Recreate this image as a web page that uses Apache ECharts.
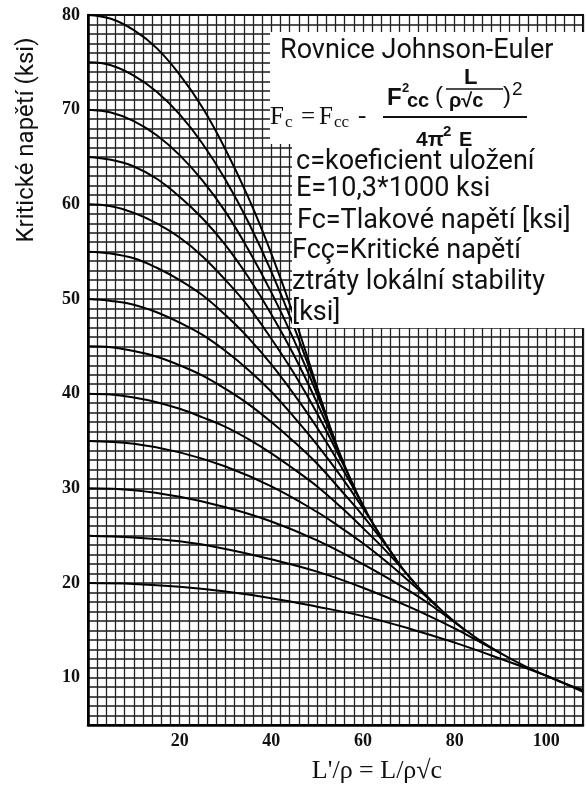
<!DOCTYPE html>
<html lang="cs">
<head>
    <meta charset="UTF-8">
    <title>Johnson-Euler</title>
    <script src="https://cdn.jsdelivr.net/npm/echarts@6.0.0/dist/echarts.min.js"></script>
    <style>
        html, body { margin: 0; padding: 0; background: #fff; }
    </style>
</head>
<body>
    <div id="main" style="width: 586px; height: 785px;"></div>

    <script type="text/javascript">
        // curves, [L'/rho, Fc] for each Fcc
        const fcc80 = [[0,80],[5,79.6],[10,78.4],[15,76.5],[20,73.7],[25,70.2],[30,65.8],[35,60.7],[40,54.8],[45,48.1],[50.4,40]];
        const fcc75 = [[0,75],[5,74.7],[10,73.6],[15,71.9],[20,69.5],[25,66.4],[30,62.6],[35,58.1],[40,52.9],[45,47.0],[50,40.4],[52.1,37.5]];
        const fcc70 = [[0,70],[5,69.7],[10,68.8],[15,67.3],[20,65.2],[25,62.5],[30,59.2],[35,55.2],[40,50.7],[45,45.6],[50,39.9],[53.9,35]];
        const fcc65 = [[0,65],[5,64.7],[10,64.0],[15,62.7],[20,60.8],[25,58.5],[30,55.7],[35,52.3],[40,48.4],[45,44.0],[50,39.0],[55.9,32.5]];
        const fcc60 = [[0,60],[5,59.8],[10,59.1],[15,58.0],[20,56.5],[25,54.5],[30,52.0],[35,49.2],[40,45.8],[45,42.1],[50,37.9],[55,33.2],[58.2,30]];
        const fcc55 = [[0,55],[5,54.8],[10,54.3],[15,53.3],[20,52.0],[25,50.4],[30,48.3],[35,45.9],[40,43.1],[45,39.9],[50,36.4],[55,32.5],[60.8,27.5]];
        const fcc50 = [[0,50],[5,49.8],[10,49.4],[15,48.6],[20,47.5],[25,46.2],[30,44.5],[35,42.5],[40,40.2],[45,37.5],[50,34.6],[55,31.4],[60,27.9],[63.8,25]];
        const fcc45 = [[0,45],[5,44.9],[10,44.5],[15,43.9],[20,43.0],[25,41.9],[30,40.5],[35,38.9],[40,37.0],[45,34.9],[50,32.6],[55,29.9],[60,27.1],[65,24.0],[67.2,22.5]];
        const fcc40 = [[0,40],[5,39.9],[10,39.6],[15,39.1],[20,38.4],[25,37.5],[30,36.5],[35,35.2],[40,33.7],[45,32.0],[50,30.2],[55,28.1],[60,25.8],[65,23.4],[71.3,20]];
        const fcc35 = [[0,35],[10,34.7],[20,33.8],[30,32.3],[40,30.2],[50,27.5],[55,25.9],[60,24.2],[65,22.3],[70,20.2],[76.2,17.5]];
        const fcc30 = [[0,30],[10,29.8],[20,29.1],[30,28.0],[40,26.5],[50,24.5],[60,22.0],[70,19.2],[75,17.6],[82.3,15]];
        const fcc25 = [[0,25],[10,24.8],[20,24.4],[30,23.6],[40,22.5],[50,21.2],[60,19.5],[70,17.5],[80,15.2],[85,13.9],[90.2,12.5]];
        const fcc20 = [[0,20],[10,19.9],[20,19.6],[30,19.1],[40,18.4],[50,17.5],[60,16.5],[70,15.2],[80,13.7],[90,12.0],[100,10.2],[108,8.5]];
        const euler = [[50.4,40],[55,33.6],[60,28.2],[65,24.1],[70,20.7],[75,18.1],[80,15.9],[85,14.1],[90,12.6],[95,11.3],[100,10.2],[105,9.2],[108,8.7]];

        const curves = [fcc80, fcc75, fcc70, fcc65, fcc60, fcc55, fcc50, fcc45, fcc40, fcc35, fcc30, fcc25, fcc20, euler];
        const xTicks = [20, 40, 60, 80, 100];
        const yTicks = [10, 20, 30, 40, 50, 60, 70, 80];

        const serif = '"Liberation Serif", "DejaVu Serif", serif';
        const sans = 'Roboto, "Noto Sans", sans-serif';
        const bold = '"Liberation Sans", "DejaVu Sans", sans-serif';

        let series = curves.map(c => ({
            type: 'line',
            data: c,
            smooth: 0.4,
            symbol: 'none',
            silent: true,
            lineStyle: {color: '#000', width: 2}
        }));

        function txt(x, y, s, size, font, weight) {
            return {
                type: 'text', x: x, y: y, z: 102,
                style: {text: s, fontSize: size, fontFamily: font, fontWeight: weight || 'normal',
                        fill: '#111', textVerticalAlign: 'middle'}
            };
        }

        let graphic = [
            // white panel for the legend text
            {type: 'rect', z: 100, shape: {x: 270, y: 32, width: 330, height: 112}, style: {fill: '#fff'}},
            {type: 'rect', z: 100, shape: {x: 292, y: 143, width: 300, height: 185}, style: {fill: '#fff'}},
            txt(280, 51, 'Rovnice Johnson-Euler', 27, sans),
            // Fc = Fcc - ...
            txt(270, 117, 'F', 25, serif),
            txt(285, 123, 'c', 17, serif),
            txt(301, 117, '=', 25, serif),
            txt(319, 117, 'F', 25, serif),
            txt(334, 123, 'cc', 17, serif),
            txt(358, 116, '-', 25, serif),
            txt(387, 98, 'F', 24, bold, 'bold'),
            txt(402, 88, '2', 13, bold, 'bold'),
            txt(407, 101, 'cc', 20, bold, 'bold'),
            txt(435, 96, '(', 24, bold),
            txt(464, 78, 'L', 22, bold, 'bold'),
            {type: 'line', z: 102, shape: {x1: 446, y1: 89, x2: 503, y2: 89}, style: {stroke: '#111', lineWidth: 1.5}},
            txt(449, 101, 'ρ√c', 20, bold, 'bold'),
            txt(503, 96, ')', 24, bold),
            txt(512, 90, '2', 19, bold),
            {type: 'line', z: 102, shape: {x1: 383, y1: 117, x2: 527, y2: 117}, style: {stroke: '#111', lineWidth: 2}},
            txt(416, 140, '4π', 21, bold, 'bold'),
            txt(443, 132, '2', 15, bold, 'bold'),
            txt(459, 140, 'E', 20, bold, 'bold'),
            // notes
            txt(296, 162, 'c=koeficient uložení', 27, sans),
            txt(296, 189, 'E=10,3*1000 ksi', 27, sans),
            txt(297, 221, 'Fc=Tlakové napětí [ksi]', 27, sans),
            txt(292, 251, 'Fcç=Kritické napětí', 27, sans),
            txt(292, 282, 'ztráty lokální stability', 27, sans),
            txt(292, 313, '[ksi]', 27, sans),
            // axis titles
            {type: 'text', z: 102, x: 27, y: 140, rotation: Math.PI / 2,
             style: {text: 'Kritické napětí (ksi)', fontSize: 24, fontFamily: sans, fill: '#111',
                     textAlign: 'center', textVerticalAlign: 'middle'}},
            {type: 'text', z: 102, x: 377, y: 771,
             style: {text: "L'/ρ = L/ρ√c", fontSize: 26, fontFamily: serif, fill: '#111',
                     textAlign: 'center', textVerticalAlign: 'middle'}}
        ];

        let options = {
            animation: false,
            backgroundColor: '#fff',
            grid: {left: 88, right: 0, top: 15, bottom: 60, show: true, borderColor: '#000', borderWidth: 2, containLabel: false},
            xAxis: {
                type: 'value', min: 0, max: 108, interval: 2,
                axisLine: {show: true, lineStyle: {color: '#000', width: 2.5}},
                axisTick: {show: false},
                splitLine: {show: true, lineStyle: {color: '#222', width: 1.3}},
                axisLabel: {
                    formatter: v => xTicks.includes(v) ? String(v) : '',
                    fontFamily: serif, fontWeight: 'bold', fontSize: 18, color: '#111', margin: 7
                }
            },
            yAxis: {
                type: 'value', min: 5, max: 80, interval: 1,
                axisLine: {show: true, lineStyle: {color: '#000', width: 2.5}},
                axisTick: {show: false},
                splitLine: {show: true, lineStyle: {color: '#1a1a1a', width: 1.6}},
                axisLabel: {
                    formatter: v => yTicks.includes(v) ? String(v) : '',
                    fontFamily: serif, fontWeight: 'bold', fontSize: 18, color: '#111', margin: 8
                }
            },
            series: series,
            graphic: graphic
        };

        let myChart = echarts.init(document.getElementById('main'));
        myChart.setOption(options);
    </script>
</body>
</html>
